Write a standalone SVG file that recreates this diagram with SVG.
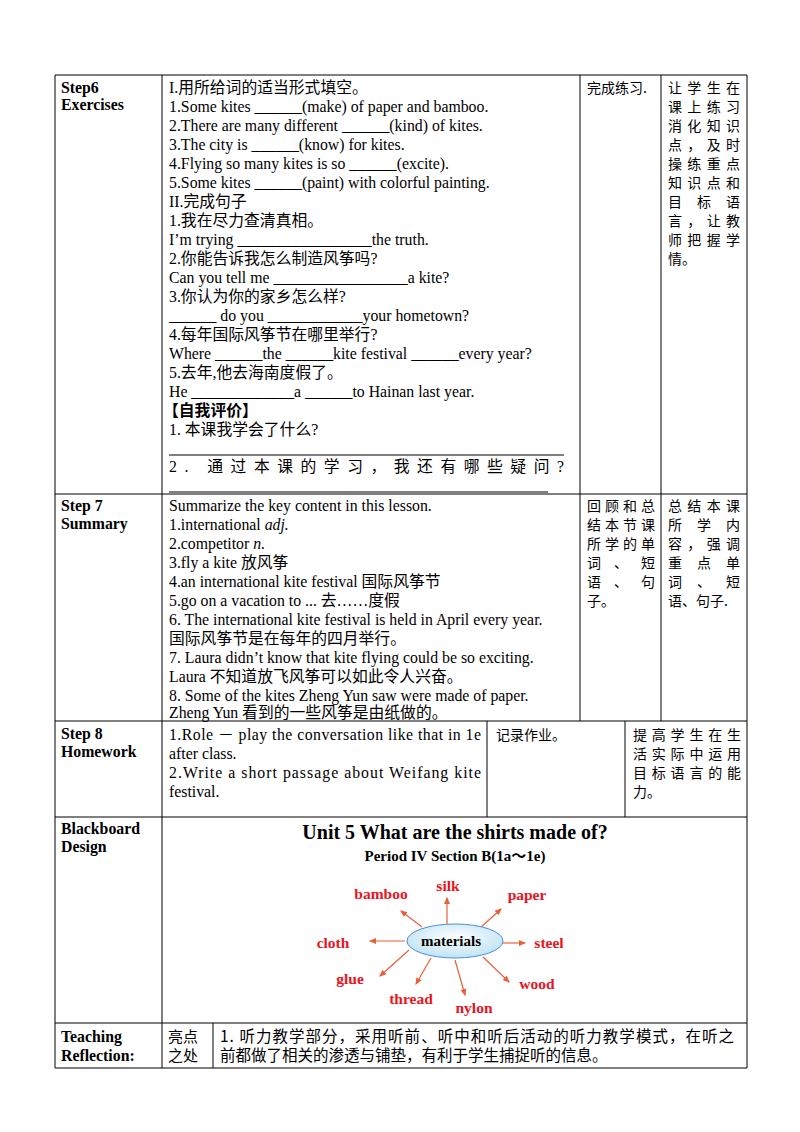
<svg xmlns="http://www.w3.org/2000/svg" width="800" height="1132" viewBox="0 0 800 1132">
<style>
.t{font-family:"Liberation Serif","Noto Sans CJK SC",serif;font-size:15.8px;fill:#000}
.b{font-weight:bold}
.c{font-family:"Noto Sans CJK SC",sans-serif;font-size:14px;fill:#000}
.r{font-family:"Liberation Serif",serif;font-weight:bold;font-size:15.5px;fill:#e8141e;text-anchor:middle}
.g line{stroke:#000;stroke-width:1}
.a{stroke:#e8603a;stroke-width:1.2;marker-end:url(#m)}
</style>
<defs>
<marker id="m" markerWidth="6" markerHeight="6" refX="5" refY="3" orient="auto"><path d="M0,0.5 L6,3 L0,5.5 z" fill="#e8603a"/></marker>
<radialGradient id="eg" cx="50%" cy="40%" r="60%"><stop offset="0" stop-color="#ffffff"/><stop offset="1" stop-color="#bfe3f5"/></radialGradient>
</defs>
<rect width="800" height="1132" fill="#fff"/>
<g id="grid" class="g">
<line x1="55" y1="75" x2="747" y2="75"/>
<line x1="55" y1="494" x2="747" y2="494"/>
<line x1="55" y1="721" x2="747" y2="721"/>
<line x1="55" y1="817" x2="747" y2="817"/>
<line x1="55" y1="1023" x2="747" y2="1023"/>
<line x1="55" y1="1068" x2="747" y2="1068"/>
<line x1="55" y1="75" x2="55" y2="1068"/>
<line x1="747" y1="75" x2="747" y2="1068"/>
<line x1="162" y1="75" x2="162" y2="1068"/>
<line x1="580" y1="75" x2="580" y2="721"/>
<line x1="661" y1="75" x2="661" y2="721"/>
<line x1="487" y1="721" x2="487" y2="817"/>
<line x1="625" y1="721" x2="625" y2="817"/>
<line x1="213" y1="1023" x2="213" y2="1068"/>
<line x1="169" y1="455" x2="564" y2="455"/>
<line x1="169" y1="492" x2="548" y2="492"/>
</g>
<g id="step6">
<text class="t b" x="61" y="93">Step6</text>
<text class="t b" x="61" y="110">Exercises</text>
<text class="t" x="169" y="93">I.用所给词的适当形式填空。</text>
<text class="t" x="169" y="112">1.Some kites ______(make) of paper and bamboo.</text>
<text class="t" x="169" y="131">2.There are many different ______(kind) of kites.</text>
<text class="t" x="169" y="150">3.The city is ______(know) for kites.</text>
<text class="t" x="169" y="169">4.Flying so many kites is so ______(excite).</text>
<text class="t" x="169" y="188">5.Some kites ______(paint) with colorful painting.</text>
<text class="t" x="169" y="207">II.完成句子</text>
<text class="t" x="169" y="226">1.我在尽力查清真相。</text>
<text class="t" x="169" y="245">I’m trying _________________the truth.</text>
<text class="t" x="169" y="264">2.你能告诉我怎么制造风筝吗?</text>
<text class="t" x="169" y="283">Can you tell me _________________a kite?</text>
<text class="t" x="169" y="302">3.你认为你的家乡怎么样?</text>
<text class="t" x="169" y="321">______  do you ____________your hometown?</text>
<text class="t" x="169" y="340">4.每年国际风筝节在哪里举行?</text>
<text class="t" x="169" y="359">Where ______the ______kite festival ______every year?</text>
<text class="t" x="169" y="378">5.去年,他去海南度假了。</text>
<text class="t" x="169" y="397">He _____________a ______to Hainan last year.</text>
<text class="t b" x="163" y="416">【自我评价】</text>
<text class="t" x="169" y="435">1. 本课我学会了什么?</text>
<text class="t" x="169" y="472" textLength="395" lengthAdjust="spacing">2.  通过本课的学习，我还有哪些疑问?</text>
<text class="c" x="587" y="93">完成练习.</text>
<g class="c">
<text x="668" y="93" textLength="72">让学生在</text>
<text x="668" y="112" textLength="72">课上练习</text>
<text x="668" y="131" textLength="72">消化知识</text>
<text x="668" y="150" textLength="72">点，及时</text>
<text x="668" y="169" textLength="72">操练重点</text>
<text x="668" y="188" textLength="72">知识点和</text>
<text x="668" y="207" textLength="72">目 标 语</text>
<text x="668" y="226" textLength="72">言，让教</text>
<text x="668" y="245" textLength="72">师把握学</text>
<text x="668" y="264">情。</text>
</g>
</g>
<g id="step7">
<text class="t b" x="61" y="511">Step 7</text>
<text class="t b" x="61" y="529">Summary</text>
<text class="t" x="169" y="511">Summarize the key content in this lesson.</text>
<text class="t" x="169" y="530">1.international <tspan font-style="italic">adj.</tspan></text>
<text class="t" x="169" y="549">2.competitor <tspan font-style="italic">n.</tspan></text>
<text class="t" x="169" y="568">3.fly a kite 放风筝</text>
<text class="t" x="169" y="587">4.an international kite festival 国际风筝节</text>
<text class="t" x="169" y="606">5.go on a vacation to ... 去……度假</text>
<text class="t" x="169" y="625">6. The international kite festival is held in April every year.</text>
<text class="t" x="169" y="644">国际风筝节是在每年的四月举行。</text>
<text class="t" x="169" y="663">7. Laura didn’t know that kite flying could be so exciting.</text>
<text class="t" x="169" y="682">Laura 不知道放飞风筝可以如此令人兴奋。</text>
<text class="t" x="169" y="701">8. Some of the kites Zheng Yun saw were made of paper.</text>
<text class="t" x="169" y="718">Zheng Yun 看到的一些风筝是由纸做的。</text>
<g class="c">
<text x="587" y="511" textLength="68">回顾和总</text>
<text x="587" y="530" textLength="68">结本节课</text>
<text x="587" y="549" textLength="68">所学的单</text>
<text x="587" y="568" textLength="68">词 、 短</text>
<text x="587" y="587" textLength="68">语 、 句</text>
<text x="587" y="606">子。</text>
<text x="668" y="511" textLength="72">总结本课</text>
<text x="668" y="530" textLength="72">所 学 内</text>
<text x="668" y="549" textLength="72">容，强调</text>
<text x="668" y="568" textLength="72">重 点 单</text>
<text x="668" y="587" textLength="72">词 、 短</text>
<text x="668" y="606">语、句子.</text>
</g>
</g>
<g id="step8">
<text class="t b" x="61" y="739">Step 8</text>
<text class="t b" x="61" y="757">Homework</text>
<text class="t" x="169" y="740" textLength="312" lengthAdjust="spacing">1.Role － play the conversation like that in 1e</text>
<text class="t" x="169" y="759">after class.</text>
<text class="t" x="169" y="778" textLength="312" lengthAdjust="spacing">2.Write a short passage about Weifang kite</text>
<text class="t" x="169" y="797">festival.</text>
<text class="c" x="496" y="740">记录作业。</text>
<g class="c">
<text x="633" y="740" textLength="108">提高学生在生</text>
<text x="633" y="759" textLength="108">活实际中运用</text>
<text x="633" y="778" textLength="108">目标语言的能</text>
<text x="633" y="797">力。</text>
</g>
</g>
<g id="blackboard">
<text class="t b" x="61" y="834">Blackboard</text>
<text class="t b" x="61" y="852">Design</text>
<text class="t b" x="455" y="839" style="font-size:20px" text-anchor="middle">Unit 5 What are the shirts made of?</text>
<text class="t b" x="455" y="861" style="font-size:15px" text-anchor="middle">Period IV Section B(1a～1e)</text>
</g>
<g id="connectors">
<line class="a" x1="447" y1="925" x2="447" y2="898"/>
<line class="a" x1="422" y1="927" x2="401" y2="911"/>
<line class="a" x1="480" y1="928" x2="501" y2="909"/>
<line class="a" x1="405" y1="941" x2="370" y2="941"/>
<line class="a" x1="496" y1="943" x2="525" y2="943"/>
<line class="a" x1="409" y1="950" x2="380" y2="976"/>
<line class="a" x1="431" y1="958" x2="416" y2="984"/>
<line class="a" x1="455" y1="960" x2="465" y2="995"/>
<line class="a" x1="483" y1="957" x2="509" y2="982"/>
</g>
<g id="materials">
<ellipse cx="455" cy="941" rx="48" ry="17" fill="url(#eg)" stroke="#4a90d9" stroke-width="1"/>
<text class="t b" x="451" y="946" text-anchor="middle" style="font-size:15px">materials</text>
</g>
<g id="labels">
<text class="r" x="381" y="899">bamboo</text>
<text class="r" x="448" y="891">silk</text>
<text class="r" x="527" y="900">paper</text>
<text class="r" x="333" y="948">cloth</text>
<text class="r" x="549" y="948">steel</text>
<text class="r" x="350" y="984">glue</text>
<text class="r" x="411" y="1004">thread</text>
<text class="r" x="474" y="1013">nylon</text>
<text class="r" x="537" y="989">wood</text>
</g>
<g id="reflection">
<text class="t b" x="61" y="1042">Teaching</text>
<text class="t b" x="61" y="1061">Reflection:</text>
<text class="c" x="168" y="1042" style="font-size:15px">亮点</text>
<text class="c" x="168" y="1061" style="font-size:15px">之处</text>
<text class="c" x="220" y="1042" style="font-size:15.5px" textLength="514">1. 听力教学部分，采用听前、听中和听后活动的听力教学模式，在听之</text>
<text class="c" x="220" y="1061" style="font-size:15.5px">前都做了相关的渗透与铺垫，有利于学生捕捉听的信息。</text>
</g>
</svg>
